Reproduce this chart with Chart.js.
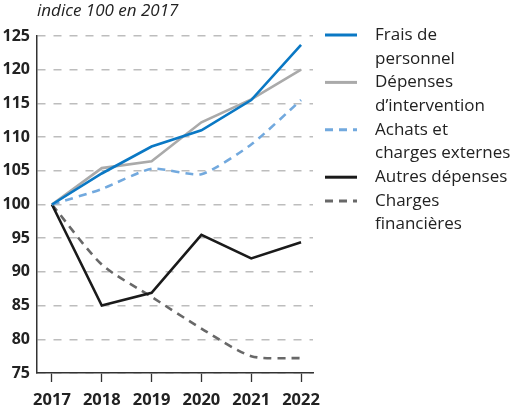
<!DOCTYPE html>
<html lang="fr">
<head>
<meta charset="utf-8">
<title>Évolution des dépenses</title>
<script src="https://cdn.jsdelivr.net/npm/chart.js@4/dist/chart.umd.min.js"></script>
<style>
  html, body { margin: 0; padding: 0; background: #fff; }
  #wrap { position: relative; width: 511px; height: 410px; }
</style>
</head>
<body>
<div id="wrap"><canvas id="c" width="511" height="410"></canvas></div>
<script>
// Years and index values (base 100 in 2017)
const years = [2017, 2018, 2019, 2020, 2021, 2022];
const fraisPersonnel   = [100, 104.6, 108.6, 111.0, 115.5, 123.7];
const depIntervention  = [100, 105.4, 106.4, 112.2, 115.6, 120.0];
const achatsCharges    = [100, 102.3, 105.3, 104.5, 108.9, 115.5];
const autresDepenses   = [100, 85.0, 86.9, 95.5, 92.0, 94.4];
const chargesFinanc    = [100, 91.1, 86.3, 81.6, 77.5, 77.2];

const seriesLabels = [
  ["Frais de", "personnel"],
  ["Dépenses", "d\u2019intervention"],
  ["Achats et", "charges externes"],
  ["Autres dépenses"],
  ["Charges", "financières"]
];
const yTicks = [75, 80, 85, 90, 95, 100, 105, 110, 115, 120, 125];
const subtitle = "indice 100 en 2017";

const FONT = "'Open Sans', 'Noto Sans', sans-serif";
const TEXT = "#222";

function pts(vals) { return years.map((y, i) => ({ x: y, y: vals[i] })); }

const datasets = [
  { label: seriesLabels[0].join(" "), data: pts(fraisPersonnel),  borderColor: "#0a78c4", borderWidth: 2.6, borderDash: [] , tension: 0 },
  { label: seriesLabels[1].join(" "), data: pts(depIntervention), borderColor: "#aaaaaa", borderWidth: 2.6, borderDash: [] , tension: 0 },
  { label: seriesLabels[2].join(" "), data: pts(achatsCharges),   borderColor: "#72a9de", borderWidth: 2.6, borderDash: [8, 6], tension: 0.2 },
  { label: seriesLabels[3].join(" "), data: pts(autresDepenses),  borderColor: "#1a1a1a", borderWidth: 2.6, borderDash: [] , tension: 0 },
  { label: seriesLabels[4].join(" "), data: pts(chargesFinanc),   borderColor: "#686868", borderWidth: 2.6, borderDash: [8, 6], tension: 0.25 }
].map(d => Object.assign(d, { pointRadius: 0, fill: false, borderCapStyle: "butt" }));

// Subtitle and multi-line legend drawn on the canvas
const decorations = {
  id: "decorations",
  afterDraw(chart) {
    const ctx = chart.ctx;
    ctx.save();
    ctx.fillStyle = TEXT;
    ctx.textBaseline = "middle";
    ctx.textAlign = "left";
    ctx.font = "italic 17px " + FONT;
    ctx.fillText(subtitle, 37, 11);

    const lineH = 23.7;
    let y = 35;
    ctx.font = "17px " + FONT;
    chart.data.datasets.forEach((ds, i) => {
      ctx.save();
      ctx.strokeStyle = ds.borderColor;
      ctx.lineWidth = 3;
      ctx.setLineDash(ds.borderDash || []);
      ctx.beginPath();
      ctx.moveTo(325, y);
      ctx.lineTo(357, y);
      ctx.stroke();
      ctx.restore();
      seriesLabels[i].forEach((t, k) => {
        ctx.fillText(t, 375, y + k * lineH);
      });
      y += seriesLabels[i].length * lineH;
    });
    ctx.restore();
  }
};

new Chart(document.getElementById("c"), {
  type: "line",
  data: { datasets },
  plugins: [decorations],
  options: {
    responsive: false,
    animation: false,
    layout: { padding: { top: 36, right: 198, left: 0, bottom: 0 } },
    plugins: { legend: { display: false }, tooltip: { enabled: false }, title: { display: false } },
    scales: {
      x: {
        type: "linear",
        min: 2016.7,
        max: 2022.24,
        afterBuildTicks: (s) => { s.ticks = years.map(v => ({ value: v })); },
        afterFit: (s) => { s.height = 37; },
        grid: { drawOnChartArea: false, drawTicks: true, tickLength: 9, tickColor: "#333", tickWidth: 1.3 },
        border: { display: true, color: "#333", width: 1.5 },
        ticks: { padding: 8, color: TEXT, font: { family: FONT, size: 16.5, weight: "bold" }, callback: (v) => String(v), maxRotation: 0 }
      },
      y: {
        min: 75,
        max: 125,
        afterBuildTicks: (s) => { s.ticks = yTicks.map(v => ({ value: v })); },
        afterFit: (s) => { s.width = 37; },
        grid: { drawTicks: false, color: "#bdbdbd", lineWidth: 1.5 },
        border: { display: true, color: "#333", width: 1.5, dash: [8, 8], dashOffset: 0 },
        ticks: { padding: 7, color: TEXT, font: { family: FONT, size: 16, weight: "bold" } }
      }
    }
  }
});
</script>
</body>
</html>
